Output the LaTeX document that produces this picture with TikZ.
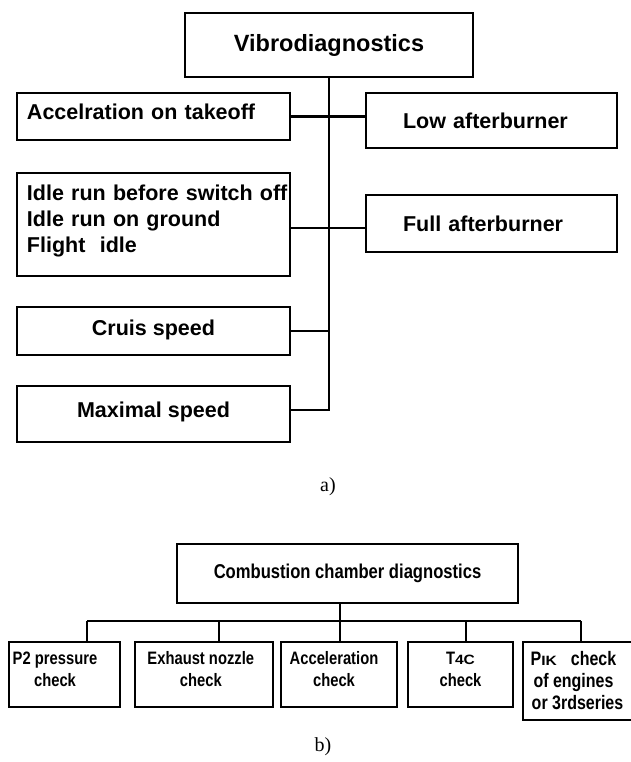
\documentclass[tikz,border=0pt]{standalone}
\usepackage{fontspec}
\setmainfont{Liberation Sans}
\newfontfamily\fontb[FakeStretch=0.82]{Liberation Sans}
\newfontfamily\fontc[FakeStretch=0.83]{Liberation Sans}
\newfontfamily\fonts[FakeStretch=1.15]{Liberation Sans}
\newfontfamily\capfont{Liberation Serif}
\begin{document}
\begin{tikzpicture}[x=1pt,y=-1pt,
  boxa/.style={draw,line width=2.4pt,inner sep=0pt,font=\bfseries\fontsize{21.5}{26}\selectfont},
  boxb/.style={draw,line width=2pt,inner sep=0pt,minimum height=65pt},
  lblb/.style={align=center,inner sep=0pt,font=\fontb\bfseries\fontsize{18}{22}\selectfont},
  linka/.style={line width=2.4pt},
  linkb/.style={line width=2pt},
  captxt/.style={font=\capfont\fontsize{20}{24}\selectfont}]
\useasboundingbox (0,0) rectangle (630,762);

% ---------- a) ----------
\node[boxa, minimum width=288pt, minimum height=64pt, font=\bfseries\fontsize{23.5}{28}\selectfont] (vib) at (329,45) {Vibrodiagnostics};
\node[boxa, minimum width=273pt, minimum height=47pt, text width=253pt, align=left, text depth=9pt] (acc) at (153.5,116.5) {Accelration on takeoff};
\node[boxa, minimum width=251pt, minimum height=55pt, text width=177pt, align=left] (low) at (491.5,120.5) {Low afterburner};
\node[boxa, minimum width=273pt, minimum height=103pt, text width=253pt, align=left, text depth=63pt] (idle) at (153.5,224.5) {\mbox{Idle run before switch off}\\Idle run on ground\\Flight~~idle};
\node[boxa, minimum width=251pt, minimum height=57pt, text width=177pt, align=left] (full) at (491.5,223.5) {Full afterburner};
\node[boxa, minimum width=273pt, minimum height=48pt, text depth=6pt] (cru) at (153.5,331) {Cruis speed};
\node[boxa, minimum width=273pt, minimum height=56pt, text depth=8pt] (max) at (153.5,414) {Maximal speed};

\coordinate (mc) at ([yshift=4pt]max.east);
\coordinate (ic) at ([yshift=-3.5pt]idle.east);
\draw[linka] (vib.south) -- (vib.south |- mc) -- (mc);
\draw[linka] (acc.east) -- (acc.east -| low.west);
\draw[linka] (ic) -- (ic -| full.west);
\draw[linka] (cru.east) -- (cru.east -| vib.south);

\node[captxt] (capa) at (328,487) {a)};

% ---------- b) ----------
\node[draw, line width=2pt, inner sep=0pt, minimum width=341pt, minimum height=59pt,
      font=\fontc\bfseries\fontsize{20}{24}\selectfont] (ccd) at (347.5,573.5) {Combustion chamber diagnostics};

\coordinate (b0) at (340,621);
\coordinate (b1) at (87,621);
\coordinate (b2) at (219,621);
\coordinate (b3) at (340,621);
\coordinate (b4) at (466,621);
\coordinate (b5) at (581,621);

\node[boxb, minimum width=111pt,
  label={[lblb, xshift=-9.5pt, yshift=5.5pt]center:P2 pressure\\check}] (p2) at (64.5,674.5) {};
\node[boxb, minimum width=137.6pt,
  label={[lblb, xshift=-3pt, yshift=5.5pt]center:Exhaust nozzle\\check}] (exh) at (203.8,674.5) {};
\node[boxb, minimum width=116pt,
  label={[lblb, xshift=-5pt, yshift=5.5pt]center:Acceleration\\check}] (acl) at (339,674.5) {};
\node[boxb, minimum width=105pt,
  label={[lblb, xshift=0pt, yshift=5.5pt]center:T{\fonts\bfseries\fontsize{13.5}{15}\selectfont 4C}\\check}] (t4c) at (460.5,674.5) {};
\node[boxb, minimum width=109pt, minimum height=78pt,
  label={[lblb, font=\fontb\bfseries\fontsize{19.5}{22}\selectfont, xshift=-4pt, yshift=0pt]center:P{\fonts\bfseries\fontsize{13.5}{15}\selectfont IK}\hspace{14pt}check\\of engines\\\hspace*{8pt}or 3rdseries}] (pik) at (577.5,681) {};

\draw[linkb] (b0 |- ccd.south) -- (b0);
\draw[linkb] (b1) -- (b5);
\draw[linkb] (b1) -- (b1 |- p2.north);
\draw[linkb] (b2) -- (b2 |- exh.north);
\draw[linkb] (b3) -- (b3 |- acl.north);
\draw[linkb] (b4) -- (b4 |- t4c.north);
\draw[linkb] (b5) -- (b5 |- pik.north);

\node[captxt] (capb) at (323,747) {b)};
\end{tikzpicture}
\end{document}
